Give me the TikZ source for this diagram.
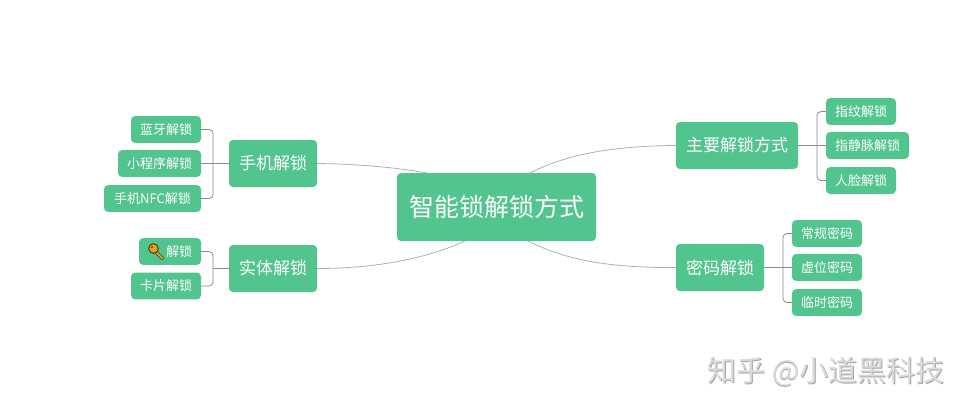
\documentclass[tikz,border=0pt]{standalone}
\usepackage{fontspec}
\setmainfont{Noto Sans CJK SC}
\definecolor{boxgreen}{RGB}{82,196,142}
\definecolor{linegray}{RGB}{175,175,175}
\definecolor{brgray}{RGB}{140,140,140}
\definecolor{markgray}{RGB}{218,218,218}
\definecolor{markshade}{RGB}{165,165,165}
\definecolor{keygold}{RGB}{232,160,30}
\definecolor{keydark}{RGB}{75,55,15}
\tikzset{
  box/.style={fill=boxgreen,rounded corners=3pt,text=white,inner sep=0pt,outer sep=0pt,anchor=center},
  rootbox/.style={box,minimum width=149.25pt,minimum height=51pt,font=\fontsize{18.75pt}{22pt}\selectfont},
  midbox/.style={box,minimum height=35.25pt,font=\fontsize{12.75pt}{15pt}\selectfont},
  leafbox/.style={box,minimum height=20pt,font=\fontsize{9.75pt}{12pt}\selectfont},
  curve/.style={draw=linegray,line width=0.6pt},
  bracket/.style={draw=brgray,line width=0.6pt,rounded corners=3pt},
  stem/.style={draw=brgray,line width=0.6pt},
  wmark/.style={font=\fontsize{21.75pt}{26pt}\selectfont,inner sep=0pt},
}
\begin{document}
\begin{tikzpicture}[x=0.75pt,y=-0.75pt]
\useasboundingbox (0,0) rectangle (968,411);
% nodes
\node[rootbox] (root) at (496.5,207) {智能锁解锁方式};
\node[midbox,minimum width=66pt] (phone) at (273,163.5) {手机解锁};
\node[midbox,minimum width=66pt] (phys) at (273,268.5) {实体解锁};
\node[midbox,minimum width=91.5pt] (main) at (737,145.5) {主要解锁方式};
\node[midbox,minimum width=66pt] (pwd) at (720,267.5) {密码解锁};
\node[leafbox,minimum width=52.5pt] (l1) at (166,129.5) {蓝牙解锁};
\node[leafbox,minimum width=62.25pt] (l2) at (159.5,163.5) {小程序解锁};
\node[leafbox,minimum width=72.75pt] (l3) at (152.5,198.5) {手机NFC解锁};
\node[leafbox,minimum width=46.5pt] (l4) at (170,251.5) {\hspace*{13.5pt}解锁};
\node[leafbox,minimum width=52.5pt] (l5) at (166,286) {卡片解锁};
\node[leafbox,minimum width=52.5pt] (r1) at (861,111.5) {指纹解锁};
\node[leafbox,minimum width=62.25pt] (r2) at (867.5,145.5) {指静脉解锁};
\node[leafbox,minimum width=52.5pt] (r3) at (861,180.5) {人脸解锁};
\node[leafbox,minimum width=52.5pt] (r4) at (827,233.5) {常规密码};
\node[leafbox,minimum width=52.5pt] (r5) at (827,267.5) {虚位密码};
\node[leafbox,minimum width=52.5pt] (r6) at (827,302.5) {临时密码};
% free ends on the root box
\coordinate (c1) at (427,173);
\coordinate (c2) at (465,241);
\coordinate (c3) at (530,173);
\coordinate (c4) at (528,241);
% bracket spines
\coordinate (b1) at (213,164);
\coordinate (b2) at (213,268.5);
\coordinate (b3) at (817,146);
\coordinate (b4) at (783,267);
% curves
\draw[curve] (phone.east) .. controls (360,164) and (400,168) .. (c1);
\draw[curve] (phys.east) .. controls (380,268.5) and (430,257) .. (c2);
\draw[curve] (main.west) .. controls (610,146) and (565,155) .. (c3);
\draw[curve] (pwd.west) .. controls (610,268) and (565,260) .. (c4);
% brackets
\draw[bracket] (l1.east) -| (b1) |- (l3.east);
\draw[stem] (l2.east) -- (phone.west);
\draw[bracket] (l4.east) -| (b2) |- (l5.east);
\draw[stem] (b2) -- (phys.west);
\draw[bracket] (r1.west) -| (b3) |- (r3.west);
\draw[stem] (main.east) -- (r2.west);
\draw[bracket] (r4.west) -| (b4) |- (r6.west);
\draw[stem] (pwd.east) -- (r5.west);
% key icon
\draw[line width=2.6pt,draw=keydark,line cap=round] (153,249) -- (162.5,258.5);
\draw[line width=1.4pt,draw=keygold,line cap=round] (153,249) -- (162.5,258.5);
\draw[fill=keygold,draw=keydark,line width=0.7pt] (153.5,248.5) circle (4.8);
\fill[keydark] (152,247) circle (1);
% watermark
\node[wmark,text=markshade] (wms) at (826.8,372.8) {知乎 @小道黑科技};
\node[wmark,text=markgray] (wm) at (826,372) {知乎 @小道黑科技};
\end{tikzpicture}
\end{document}
